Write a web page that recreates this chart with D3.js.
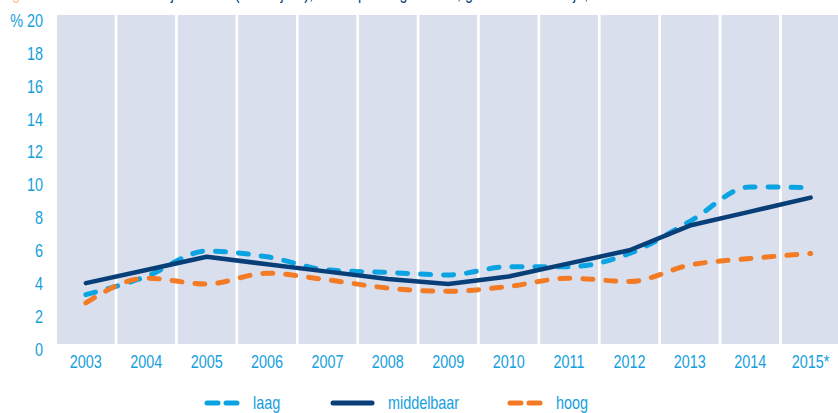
<!DOCTYPE html>
<html>
<head>
<meta charset="utf-8">
<script src="https://cdn.jsdelivr.net/npm/d3@7"></script>
<style>
  body { margin: 0; background: #fff; }
  svg { display: block; font-family: "Liberation Sans", sans-serif; }
</style>
</head>
<body>
<div class="container"></div>
<script>
const years = ['2003', '2004', '2005', '2006', '2007', '2008', '2009', '2010', '2011', '2012', '2013', '2014', '2015*'];
const laag = [3.0, 4.1, 5.65, 5.3, 4.5, 4.35, 4.2, 4.7, 4.7, 5.5, 7.45, 9.55, 9.5];
const middelbaar = [3.7, 4.5, 5.3, 4.85, 4.4, 3.95, 3.65, 4.1, 4.9, 5.7, 7.2, 8.05, 8.9];
const hoog = [2.5, 4.0, 3.65, 4.3, 3.9, 3.4, 3.2, 3.5, 4.0, 3.8, 4.8, 5.2, 5.5];
const yTicks = [0, 2, 4, 6, 8, 10, 12, 14, 16, 18, 20];

const width = 838;
const height = 413;
const squeeze = 0.8;

const series = [
  { name: 'laag', values: laag, color: '#0ba3e2', dash: true },
  { name: 'middelbaar', values: middelbaar, color: '#083f78', dash: false },
  { name: 'hoog', values: hoog, color: '#f47b25', dash: true },
];

const x = d3.scaleBand().domain(years).range([57, 57 + 13 * 60.4]).paddingInner(0);
const y = d3.scaleLinear().domain([0, 20]).range([344, 15]);

const svg = d3.select('.container')
  .append('svg')
  .attr('width', width)
  .attr('height', height);

// cut-off title at the top
const title = svg.append('text')
  .attr('transform', `translate(0, -1) scale(${squeeze}, 1)`)
  .style('font-size', '18px');
title.append('tspan').attr('fill', '#f9c7a0').text('Figuur 5.3  ');
title.append('tspan').attr('fill', '#083f78').text('Werkloosheid bij ouderen (55-75 jaar), naar opleidingsniveau, geslacht en leeftijd, 2003-2015');

// column backgrounds
svg.append('g')
  .selectAll('rect')
  .data(years)
  .enter()
  .append('rect')
  .attr('x', (d) => x(d))
  .attr('y', y(20))
  .attr('width', x.bandwidth() - 2.7)
  .attr('height', y(0) - y(20))
  .attr('fill', '#d9dfec');

// y axis labels
svg.append('g')
  .selectAll('text')
  .data(yTicks)
  .enter()
  .append('text')
  .attr('transform', (d) => `translate(43, ${y(d) + 5.5}) scale(${squeeze}, 1)`)
  .attr('dy', '0.35em')
  .attr('text-anchor', 'end')
  .attr('fill', '#14a0dc')
  .style('font-size', '18px')
  .text((d) => (d === 20 ? '% 20' : d));

// x axis labels
svg.append('g')
  .selectAll('text')
  .data(years)
  .enter()
  .append('text')
  .attr('transform', (d) => `translate(${x(d) + (x.bandwidth() - 2.7) / 2}, 362) scale(${squeeze}, 1)`)
  .attr('dy', '0.35em')
  .attr('text-anchor', 'middle')
  .attr('fill', '#14a0dc')
  .style('font-size', '18px')
  .text((d) => d);

const cx = (i) => x(years[i]) + (x.bandwidth() - 2.7) / 2;

const lineSmooth = d3.line()
  .x((d, i) => cx(i))
  .y((d) => y(d))
  .curve(d3.curveMonotoneX);

const lineStraight = d3.line()
  .x((d, i) => cx(i))
  .y((d) => y(d));

svg.append('g')
  .selectAll('path')
  .data(series)
  .enter()
  .append('path')
  .attr('d', (s) => (s.dash ? lineSmooth(s.values) : lineStraight(s.values)))
  .attr('fill', 'none')
  .attr('stroke', (s) => s.color)
  .attr('stroke-width', (s) => (s.dash ? 5 : 4.5))
  .attr('stroke-linecap', 'round')
  .attr('stroke-linejoin', 'round')
  .attr('stroke-dasharray', (s) => (s.dash ? '10 13' : null));

// legend
const legendX = [205, 331, 508];
const legend = svg.append('g')
  .selectAll('g')
  .data(series)
  .enter()
  .append('g')
  .attr('transform', (s, i) => `translate(${legendX[i]}, 403)`);

legend.append('line')
  .attr('x1', 2)
  .attr('x2', (s) => (s.dash ? 36 : 41))
  .attr('y1', 0)
  .attr('y2', 0)
  .attr('stroke', (s) => s.color)
  .attr('stroke-width', 5)
  .attr('stroke-linecap', 'round')
  .attr('stroke-dasharray', (s) => (s.dash ? '11 8' : null));

legend.append('text')
  .attr('transform', (s) => `translate(${s.dash ? 48 : 57}, 0) scale(${squeeze}, 1)`)
  .attr('dy', '0.32em')
  .attr('fill', '#14a0dc')
  .style('font-size', '18px')
  .text((s) => s.name);
</script>
</body>
</html>
